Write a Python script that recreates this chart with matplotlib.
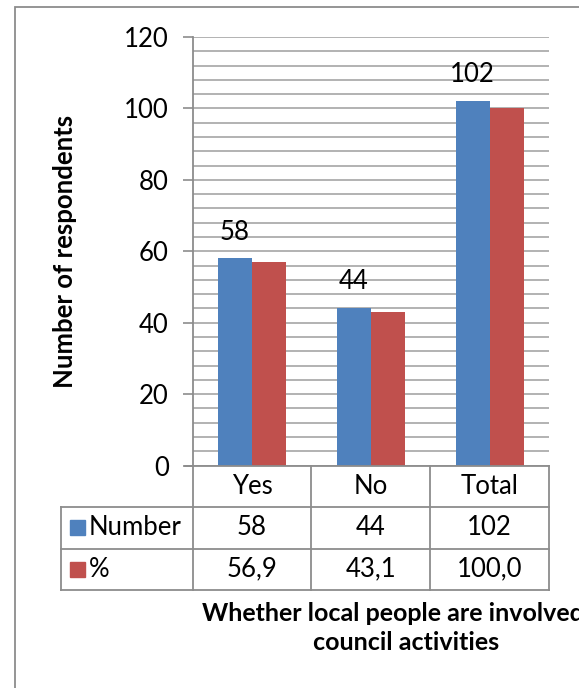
import matplotlib
matplotlib.use("Agg")
import matplotlib.pyplot as plt
from matplotlib.patches import Rectangle
from matplotlib.lines import Line2D

plt.rcParams['font.family'] = ['Lato', 'DejaVu Sans']

categories = ["Yes", "No", "Total"]
series_names = ["Number", "%"]
number_values = [58, 44, 102]
percent_values = [56.9, 43.1, 100.0]
number_labels = ["58", "44", "102"]
percent_labels = ["56,9", "43,1", "100,0"]
y_ticks = [0, 20, 40, 60, 80, 100, 120]

BLUE = "#4F81BD"
RED = "#C0504D"
GRID = "#A6A6A6"
LINE = "#8C8C8C"
FS = 18.5

W, H = 579, 688
fig = plt.figure(figsize=(W / 100, H / 100), dpi=100)

def fx(px):
    return px / W

def fy(py):
    return 1 - py / H

# outer chart frame (right side runs off the canvas)
fig.add_artist(Rectangle((fx(14.5), fy(700)), fx(700), fy(6.5) - fy(700),
                         transform=fig.transFigure, fill=False,
                         edgecolor=LINE, linewidth=1.3))

ax_left, ax_right, ax_top, ax_bottom = 192.5, 549, 37, 465.5
ax = fig.add_axes([fx(ax_left), fy(ax_bottom), fx(ax_right - ax_left),
                   fy(ax_top) - fy(ax_bottom)])

x = list(range(len(categories)))
bw = 1 / 3.5
ax.bar([i - bw / 2 for i in x], number_values, width=bw, color=BLUE, zorder=3)
ax.bar([i + bw / 2 for i in x], percent_values, width=bw, color=RED, zorder=3)

for i, (v, lab) in enumerate(zip(number_values, number_labels)):
    ax.annotate(lab, (i - bw / 2, v), xytext=(0, 10), textcoords="offset points",
                ha="center", va="bottom", fontsize=FS, color="black")

ax.set_xlim(-0.5, len(categories) - 0.5)
ax.set_ylim(0, 120)
ax.set_yticks(y_ticks)
ax.set_yticklabels([str(t) for t in y_ticks], fontsize=FS)
ax.set_yticks(range(0, 121, 4), minor=True)
ax.yaxis.grid(True, which="both", color=GRID, linewidth=1.2, zorder=0)
ax.tick_params(axis="y", which="major", length=7, width=1.2, color=LINE, pad=10)
ax.tick_params(axis="y", which="minor", length=0)
ax.set_xticks([])
for s in ["top", "right", "bottom"]:
    ax.spines[s].set_visible(False)
ax.spines["left"].set_color(LINE)
ax.spines["left"].set_linewidth(1.3)

ax.set_ylabel("Number of respondents", fontsize=FS, fontweight="bold",
              labelpad=34)

# data table below the plot area
row_h = 41.5 / (ax_bottom - ax_top)
trans = ax.get_xaxis_transform()
table_left = -0.5 - (ax_left - 60.5) / ((ax_right - ax_left) / len(categories))
right = len(categories) - 0.5

def hline(x0, x1, y):
    ax.add_line(Line2D([x0, x1], [y, y], transform=trans, color=LINE,
                       linewidth=1.3, clip_on=False, zorder=4))

def vline(xv, y0, y1):
    ax.add_line(Line2D([xv, xv], [y0, y1], transform=trans, color=LINE,
                       linewidth=1.3, clip_on=False, zorder=4))

# axis line at zero extended left as a tick
ax.add_line(Line2D([-0.5 - 8 / 119, right], [0, 0], transform=trans,
                   color=LINE, linewidth=1.3, clip_on=False, zorder=4))
hline(table_left, right, -row_h)
hline(table_left, right, -2 * row_h)
hline(table_left, right, -3 * row_h)
for k in range(len(categories) + 1):
    vline(k - 0.5, 0, -3 * row_h)
vline(table_left, -row_h, -3 * row_h)

for i, c in enumerate(categories):
    ax.text(i, -0.5 * row_h, c, transform=trans, ha="center", va="center",
            fontsize=FS)
rows = [(series_names[0], BLUE, number_labels),
        (series_names[1], RED, percent_labels)]
for r, (name, col, labs) in enumerate(rows):
    yc = -(r + 1.5) * row_h
    for i, lab in enumerate(labs):
        ax.text(i, yc, lab, transform=trans, ha="center", va="center",
                fontsize=FS)
    sq = 15 / 119
    sqh = 15 / (ax_bottom - ax_top)
    ax.add_patch(Rectangle((table_left + 10 / 119, yc - sqh / 2), sq, sqh,
                           transform=trans, color=col, clip_on=False))
    ax.text(table_left + 28 / 119, yc, name, transform=trans, ha="left",
            va="center", fontsize=FS)

# axis title, wider than the chart so its first line runs past the right edge
fig.text(fx(406), fy(628), "Whether local people are involved in\ncouncil activities",
         ha="center", va="center", fontsize=18, fontweight="bold",
         linespacing=1.35)

fig.savefig("out.png", dpi=100)
